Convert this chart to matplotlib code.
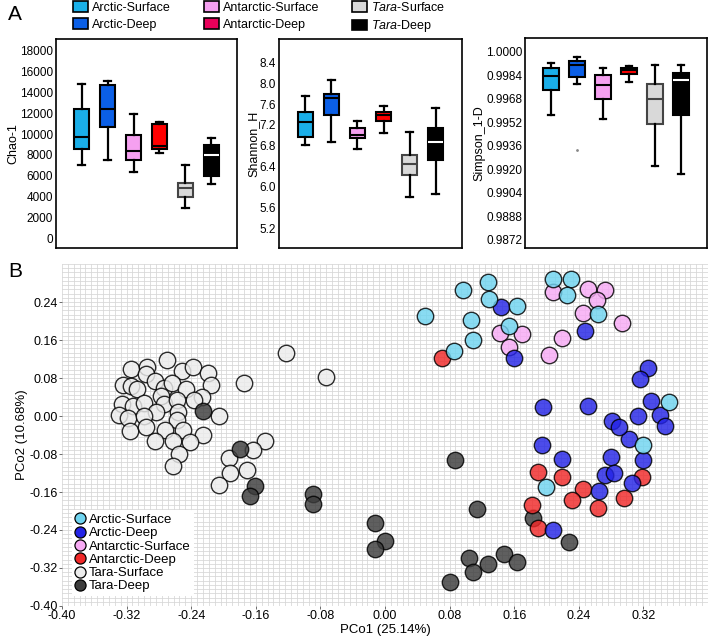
import matplotlib
matplotlib.use('Agg')
import matplotlib.pyplot as plt
from matplotlib.patches import Patch
from matplotlib.lines import Line2D
from matplotlib.ticker import MultipleLocator

plt.rcParams['font.family'] = ['Liberation Sans', 'DejaVu Sans']
plt.rcParams['mathtext.fontset'] = 'custom'
plt.rcParams['mathtext.rm'] = 'Liberation Sans'
plt.rcParams['mathtext.it'] = 'Liberation Sans:italic'

# ---------------- data ----------------
groups = ['Arctic-Surface', 'Arctic-Deep', 'Antarctic-Surface', 'Antarctic-Deep',
          'Tara-Surface', 'Tara-Deep']
legend_labels_a = ['Arctic-Surface', 'Arctic-Deep', 'Antarctic-Surface', 'Antarctic-Deep',
                   r'$\it{Tara}$-Surface', r'$\it{Tara}$-Deep']

# Chao-1
chao_lo = [7000, 7500, 6350, 8150, 2900, 5200]
chao_q1 = [8550, 10650, 7500, 8550, 4000, 6000]
chao_med = [9750, 12400, 8400, 8900, 4800, 7950]
chao_q3 = [12400, 14750, 9950, 10950, 5300, 8950]
chao_hi = [14800, 15150, 11950, 11150, 7000, 9650]
chao_ticks = [0, 2000, 4000, 6000, 8000, 10000, 12000, 14000, 16000, 18000]

# Shannon_H
shan_lo = [6.81, 6.87, 6.74, 7.05, 5.81, 5.87]
shan_q1 = [6.97, 7.39, 6.94, 7.28, 6.23, 6.52]
shan_med = [7.25, 7.72, 7.00, 7.39, 6.44, 6.87]
shan_q3 = [7.45, 7.79, 7.14, 7.45, 6.62, 7.13]
shan_hi = [7.75, 8.06, 7.27, 7.56, 7.07, 7.53]
shan_ticks = [5.2, 5.6, 6.0, 6.4, 6.8, 7.2, 7.6, 8.0, 8.4]

# Simpson_1-D
simp_lo = [0.99572, 0.99781, 0.99542, 0.99792, 0.99224, 0.99167]
simp_q1 = [0.99738, 0.99829, 0.99679, 0.99847, 0.99510, 0.99567]
simp_med = [0.99833, 0.99908, 0.99772, 0.99874, 0.99681, 0.99810]
simp_q3 = [0.99892, 0.99935, 0.99842, 0.99890, 0.99783, 0.99856]
simp_hi = [0.99924, 0.99963, 0.99892, 0.99901, 0.99913, 0.99913]
simp_fliers = [[], [0.99333], [], [], [], []]
simp_ticks = [0.9872, 0.9888, 0.9904, 0.9920, 0.9936, 0.9952, 0.9968, 0.9984, 1.0000]

# PCoA scatter
arcs_x = [0.050, 0.096, 0.128, 0.129, 0.163, 0.106, 0.109, 0.085, 0.154, 0.208, 0.230,
          0.226, 0.264, 0.352, 0.320, 0.199]
arcs_y = [0.211, 0.266, 0.283, 0.246, 0.231, 0.203, 0.161, 0.136, 0.189, 0.288, 0.288,
          0.254, 0.214, 0.029, -0.060, -0.150]
arcd_x = [0.194, 0.219, 0.280, 0.272, 0.283, 0.265, 0.306, 0.319, 0.302, 0.208, 0.144,
          0.160, 0.248, 0.326, 0.316, 0.196, 0.252, 0.330, 0.340, 0.347, 0.313, 0.281, 0.290]
arcd_y = [-0.061, -0.090, -0.086, -0.125, -0.121, -0.158, -0.140, -0.092, -0.049, -0.240,
          0.229, 0.122, 0.179, 0.101, 0.077, 0.019, 0.021, 0.031, 0.002, -0.022, -0.001,
          -0.010, -0.023]
ants_x = [0.208, 0.252, 0.272, 0.263, 0.245, 0.293, 0.142, 0.170, 0.219, 0.153, 0.203]
ants_y = [0.262, 0.268, 0.266, 0.245, 0.216, 0.195, 0.175, 0.173, 0.164, 0.146, 0.129]
antd_x = [0.189, 0.219, 0.245, 0.232, 0.264, 0.296, 0.318, 0.182, 0.189, 0.071]
antd_y = [-0.118, -0.129, -0.154, -0.176, -0.193, -0.173, -0.129, -0.188, -0.236, 0.122]
taras_x = [-0.270, -0.314, -0.295, -0.252, -0.238, -0.219, -0.296, -0.324, -0.314, -0.307,
           -0.285, -0.274, -0.264, -0.246, -0.216, -0.227, -0.237, -0.326, -0.312, -0.298,
           -0.277, -0.274, -0.257, -0.283, -0.330, -0.318, -0.299, -0.256, -0.258, -0.206,
           -0.316, -0.296, -0.272, -0.250, -0.225, -0.285, -0.262, -0.242, -0.255, -0.174,
           -0.122, -0.149, -0.164, -0.193, -0.073, -0.171, -0.192, -0.205, -0.263]
taras_y = [0.117, 0.099, 0.103, 0.095, 0.103, 0.090, 0.088, 0.066, 0.064, 0.057, 0.074,
           0.060, 0.070, 0.057, 0.066, 0.041, 0.034, 0.025, 0.021, 0.028, 0.043, 0.026,
           0.033, 0.009, 0.002, -0.005, -0.001, 0.009, -0.008, 0.000, -0.032, -0.024,
           -0.029, -0.029, -0.041, -0.053, -0.053, -0.055, -0.079, 0.069, 0.132, -0.053,
           -0.071, -0.088, 0.083, -0.114, -0.120, -0.145, -0.106]
tarad_x = [-0.226, -0.180, -0.161, -0.167, -0.089, -0.089, -0.012, 0.000, -0.012, 0.087,
           0.114, 0.183, 0.228, 0.104, 0.109, 0.128, 0.147, 0.164, 0.080]
tarad_y = [0.010, -0.070, -0.147, -0.169, -0.164, -0.186, -0.225, -0.263, -0.280, -0.092,
           -0.195, -0.214, -0.265, -0.298, -0.328, -0.312, -0.291, -0.308, -0.349]
pc_ticks = [-0.40, -0.32, -0.24, -0.16, -0.08, 0.00, 0.08, 0.16, 0.24, 0.32]

# ---------------- styles ----------------
box_colors = ['#1aaee8', '#0b5fe6', '#f5a0f0', '#ff0000', '#d9d9d9', '#000000']
legend_colors_a = ['#1ab0e8', '#0b5fe6', '#f5a0f0', '#e8005a', '#d9d9d9', '#000000']
box_edges = ['black', 'black', 'black', 'black', '#444444', 'black']
median_colors = ['black', 'black', 'black', 'black', '#444444', 'white']
sc_colors = {'Arctic-Surface': '#6fd4f0', 'Arctic-Deep': '#2424e6',
             'Antarctic-Surface': '#f7aaf4', 'Antarctic-Deep': '#f02828',
             'Tara-Surface': '#ececec', 'Tara-Deep': '#3c3c3c'}

W, H = 709, 639
fig = plt.figure(figsize=(W / 100, H / 100), dpi=100)


def ax_px(left, top, right, bottom):
    return fig.add_axes([left / W, 1 - bottom / H, (right - left) / W, (bottom - top) / H])


def box_panel(ax, lo, q1, med, q3, hi, ticks, ylim, fmt, ylabel, fliers=None):
    stats = []
    for i in range(len(groups)):
        stats.append(dict(whislo=lo[i], q1=q1[i], med=med[i], q3=q3[i], whishi=hi[i],
                          fliers=(fliers[i] if fliers else [])))
    bp = ax.bxp(stats, positions=list(range(1, 7)), widths=0.58, patch_artist=True,
                showfliers=True, capwidths=0.26,
                boxprops=dict(linewidth=1.5),
                whiskerprops=dict(linewidth=1.6, color='black'),
                capprops=dict(linewidth=1.6, color='black'),
                medianprops=dict(linewidth=1.5),
                flierprops=dict(marker='.', markersize=2, markerfacecolor='#888888',
                                markeredgecolor='#888888'))
    for i, b in enumerate(bp['boxes']):
        b.set_facecolor(box_colors[i])
        b.set_edgecolor(box_edges[i])
    for i, m in enumerate(bp['medians']):
        m.set_color(median_colors[i])
    ax.set_xlim(0, 7)
    ax.set_ylim(*ylim)
    ax.set_xticks([])
    ax.set_yticks(ticks)
    ax.set_yticklabels([fmt.format(t) for t in ticks])
    ax.tick_params(axis='y', length=0, pad=2, labelsize=8.5)
    for s in ax.spines.values():
        s.set_linewidth(1.2)
    ax.set_ylabel(ylabel, fontsize=9, labelpad=0.5)


ax1 = ax_px(56, 39, 237, 248)
box_panel(ax1, chao_lo, chao_q1, chao_med, chao_q3, chao_hi, chao_ticks,
          (-950, 19150), '{:.0f}', 'Chao-1')
ax2 = ax_px(279, 39, 462, 248)
box_panel(ax2, shan_lo, shan_q1, shan_med, shan_q3, shan_hi, shan_ticks,
          (4.82, 8.86), '{:.1f}', 'Shannon_H')
ax3 = ax_px(525, 38, 707, 248)
box_panel(ax3, simp_lo, simp_q1, simp_med, simp_q3, simp_hi, simp_ticks,
          (0.986655, 1.000936), '{:.4f}', 'Simpson_1-D', fliers=simp_fliers)

# legend A
handles_a = [Patch(facecolor=legend_colors_a[i], edgecolor='black', linewidth=1.2,
                   label=legend_labels_a[i]) for i in range(6)]
fig.legend(handles=handles_a, loc='upper left', bbox_to_anchor=(73 / W, 1 - 1 / H),
           ncol=3, frameon=False, fontsize=9, borderpad=0, handlelength=1.2,
           handleheight=0.95, handletextpad=0.35, labelspacing=0.35, columnspacing=2.6,
           borderaxespad=0)

fig.text(8 / W, 1 - 14 / H, 'A', fontsize=15, va='center', ha='left')
fig.text(8 / W, 1 - 272 / H, 'B', fontsize=15, va='center', ha='left')

# ---------------- panel B ----------------
axb = ax_px(62, 264, 708, 606)
axb.set_xlim(-0.40, 0.40)
axb.set_ylim(-0.40, 0.302)
axb.set_xticks(pc_ticks)
axb.set_yticks([t for t in pc_ticks] + [0.24])
axb.set_yticks([-0.40, -0.32, -0.24, -0.16, -0.08, 0.00, 0.08, 0.16, 0.24])
axb.set_xticklabels(['{:.2f}'.format(t) for t in pc_ticks])
axb.set_yticklabels(['{:.2f}'.format(t) for t in [-0.40, -0.32, -0.24, -0.16, -0.08,
                                                   0.00, 0.08, 0.16, 0.24]])
axb.xaxis.set_minor_locator(MultipleLocator(0.08 / 11))
axb.yaxis.set_minor_locator(MultipleLocator(0.08 / 9))
axb.grid(True, which='both', color='#d6d6d6', linewidth=0.55)
axb.set_axisbelow(True)
axb.tick_params(which='minor', length=0)
axb.tick_params(which='major', length=2, width=0.6, color='#555555', labelsize=9, pad=1)
for s in axb.spines.values():
    s.set_visible(False)
axb.set_xlabel('PCo1 (25.14%)', fontsize=9.5, labelpad=1)
axb.set_ylabel('PCo2 (10.68%)', fontsize=9.5, labelpad=1)

sc_kw = dict(s=140, edgecolors='black', linewidths=1.0, alpha=0.82, zorder=3)
axb.scatter(taras_x, taras_y, c=sc_colors['Tara-Surface'], **sc_kw)
axb.scatter(tarad_x, tarad_y, c=sc_colors['Tara-Deep'], **sc_kw)
axb.scatter(ants_x, ants_y, c=sc_colors['Antarctic-Surface'], **sc_kw)
axb.scatter(antd_x, antd_y, c=sc_colors['Antarctic-Deep'], **sc_kw)
axb.scatter(arcd_x, arcd_y, c=sc_colors['Arctic-Deep'], **sc_kw)
axb.scatter(arcs_x, arcs_y, c=sc_colors['Arctic-Surface'], **sc_kw)

handles_b = [Line2D([], [], linestyle='none', marker='o', markersize=8,
                    markerfacecolor=sc_colors[g], markeredgecolor='black',
                    markeredgewidth=0.9, label=g) for g in groups]
leg = axb.legend(handles=handles_b, loc='lower left', bbox_to_anchor=(0.015, 0.03),
                 fontsize=9.5, frameon=True, framealpha=1, edgecolor='none',
                 facecolor='white', borderpad=0.25, handlelength=0.8,
                 handletextpad=0.25, labelspacing=0.08, borderaxespad=0)
leg.get_frame().set_linewidth(0)
leg.set_zorder(5)

fig.savefig('out.png', dpi=100)
